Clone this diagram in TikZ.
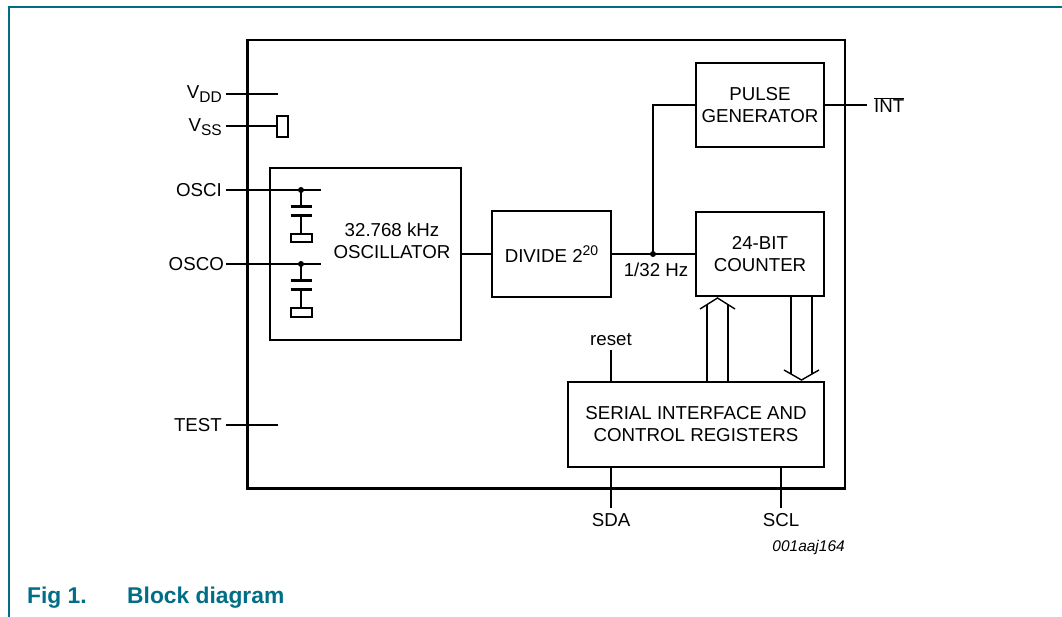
\documentclass[tikz,border=0pt]{standalone}
\usepackage{fontspec}
\setmainfont{Liberation Sans}
\usetikzlibrary{calc}
\definecolor{teal1}{RGB}{0,110,135}
\begin{document}
\begin{tikzpicture}[x=1pt,y=-1pt,
  blk/.style={draw, line width=2.8pt, inner sep=0pt, align=center, font=\fontsize{18.7}{22}\selectfont},
  wire/.style={line width=1.4pt},
  plate/.style={line width=3pt},
  lbl/.style={font=\fontsize{18.7}{22}\selectfont, inner sep=0pt}]
\useasboundingbox (0,0) rectangle (1062,617);
\draw[teal1, line width=1.6pt] (9,617) -- (9,7) -- (1062,7);

% blocks
\node[blk, minimum width=597.5, minimum height=448.5] (chip) at (546.25,264.25) {};
\node[blk, minimum width=191, minimum height=172] (osc) at (365.5,254) {};
\node[lbl, align=center] (osctxt) at (392,241) {32.768 kHz\\OSCILLATOR};
\node[blk, minimum width=119, minimum height=86] (div) at (551.5,254) {DIVIDE 2\raisebox{7pt}{\fontsize{14}{14}\selectfont 20}};
\node[blk, minimum width=128, minimum height=84] (pulse) at (760,105) {PULSE\\GENERATOR};
\node[blk, minimum width=128, minimum height=84] (cnt) at (760,254) {24-BIT\\COUNTER};
\node[blk, minimum width=256, minimum height=85] (ser) at (696,424.5) {SERIAL INTERFACE AND\\CONTROL REGISTERS};

% connectors
\draw[wire] (osc.east) -- (div.west);
\draw[wire] (div.east) -- (cnt.west);
\coordinate (j) at (653,254);
\fill (j) circle (3);
\draw[wire] (j) |- (pulse.west);
\node[lbl] (freq) at (656,270) {1/32 Hz};
\coordinate (intend) at (867,105);
\draw[wire] (pulse.east) -- (intend);
\node[lbl, anchor=west] (intlbl) at (874,105) {$\overline{\hbox{INT}}$};

% left pins
\coordinate (vdda) at (226,94); \coordinate (vddb) at (278,94);
\draw[wire] (vdda) -- (vddb);
\node[lbl, anchor=base east] (vdd) at (222,99) {V\raisebox{-4pt}{\fontsize{15.5}{15}\selectfont DD}};
\coordinate (vssa) at (226,126); \coordinate (vssb) at (277,126);
\draw[wire] (vssa) -- (vssb);
\draw[wire] (277,116) rectangle (288,137);
\node[lbl, anchor=base east] (vss) at (222,132) {V\raisebox{-4pt}{\fontsize{15.5}{15}\selectfont SS}};
\coordinate (testa) at (226,425); \coordinate (testb) at (278,425);
\draw[wire] (testa) -- (testb);
\node[lbl, anchor=east] (test) at (222,425) {TEST};

% OSCI with capacitor
\coordinate (oscia) at (226,190); \coordinate (oscib) at (321,190);
\draw[wire] (oscia) -- (oscib);
\node[lbl, anchor=east] (osci) at (222,190) {OSCI};
\fill (301,190) circle (3);
\draw[wire] (301,190) -- (301,207);
\draw[plate] (290.5,207) -- (311.5,207);
\draw[plate] (290.5,216) -- (311.5,216);
\draw[wire] (301,216) -- (301,234);
\draw[wire] (291,234) rectangle (312,242);

% OSCO with capacitor
\coordinate (oscoa) at (226,264); \coordinate (oscob) at (321,264);
\draw[wire] (oscoa) -- (oscob);
\node[lbl, anchor=east] (osco) at (224,264) {OSCO};
\fill (301,264) circle (3);
\draw[wire] (301,264) -- (301,281);
\draw[plate] (290.5,281) -- (311.5,281);
\draw[plate] (290.5,290) -- (311.5,290);
\draw[wire] (301,290) -- (301,308);
\draw[wire] (291,308) rectangle (312,317);

% reset
\coordinate (rst) at (611,350);
\draw[wire] (ser.north -| rst) -- (rst);
\node[lbl] (reset) at (611,340) {reset};

% SDA, SCL
\coordinate (sda) at (611,508);
\draw[wire] (ser.south -| sda) -- (sda);
\node[lbl, anchor=north] (sdal) at (611,513) {SDA};
\coordinate (scl) at (781,508);
\draw[wire] (ser.south -| scl) -- (scl);
\node[lbl, anchor=north] (scll) at (781,513) {SCL};

% bus arrows (hollow)
\draw[wire] (707,381) -- (707,304.6);
\draw[wire] (728,381) -- (728,304.6);
\draw[wire, line join=miter] (700,309) -- (717.5,298) -- (735,309);
\draw[wire] (791,297) -- (791,374);
\draw[wire] (812,297) -- (812,374);
\draw[wire, line join=miter] (784,370) -- (801.5,380) -- (819,370);

% labels
\node[anchor=base east, font=\itshape\fontsize{15.5}{18}\selectfont, inner sep=0pt] (code) at (845,551) {001aaj164};
\node[anchor=base west, font=\bfseries\fontsize{22.8}{27}\selectfont, text=teal1, inner sep=0pt] (fig) at (27,603) {Fig 1.};
\node[anchor=base west, font=\bfseries\fontsize{22.8}{27}\selectfont, text=teal1, inner sep=0pt] (cap) at (127,603) {Block diagram};
\end{tikzpicture}
\end{document}
